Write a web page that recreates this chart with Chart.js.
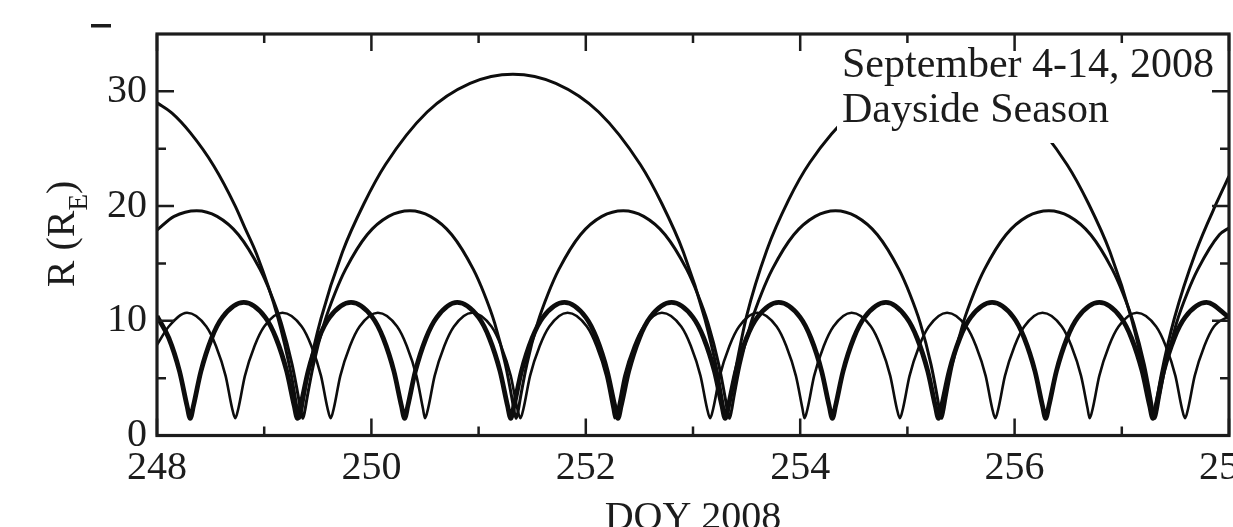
<!DOCTYPE html>
<html>
<head>
<meta charset="utf-8">
<script src="https://cdn.jsdelivr.net/npm/chart.js@4.4.1/dist/chart.umd.min.js"></script>
<style>
  html, body { margin: 0; padding: 0; overflow: hidden; background: #fff; }
  #wrap { width: 1233px; height: 527px; overflow: hidden; }
</style>
</head>
<body>
<div id="wrap"><canvas id="myChart" width="1270" height="527"></canvas></div>
<script>
// axis ticks
const xTickLabels = [248, 250, 252, 254, 256, 258];
const xMinorTicks = [249, 251, 253, 255, 257];
const yTickLabels = [0, 10, 20, 30];
const yMinorTicks = [5, 15, 25];

// P1 (~4 day orbit)
const p1Days = [248.00, 248.14, 248.31, 248.53, 248.73, 248.82, 248.93, 249.13, 249.25, 249.29, 249.31, 249.33,
  249.35, 249.37, 249.41, 249.53, 249.73, 249.93, 250.13, 250.52, 250.92, 251.32,
  251.72, 252.12, 252.51, 252.71, 252.91, 253.11, 253.23, 253.27, 253.29, 253.31,
  253.33, 253.35, 253.39, 253.50, 253.69, 253.89, 254.09, 254.50, 254.90, 255.30,
  255.70, 256.10, 256.49, 256.69, 256.89, 257.09, 257.21, 257.25, 257.27, 257.29,
  257.31, 257.33, 257.37, 257.49, 257.69, 257.89, 258.00];
const p1R = [29.0, 28.1, 26.4, 23.5, 20.0, 18.1, 15.8, 10.2, 5.4, 3.3, 2.2, 1.5,
  2.2, 3.3, 5.4, 10.2, 16.0, 20.2, 23.6, 28.2, 30.7, 31.5,
  30.7, 28.2, 23.6, 20.2, 16.0, 10.2, 5.4, 3.3, 2.2, 1.5,
  2.2, 3.3, 5.4, 10.4, 16.2, 20.5, 23.8, 28.3, 30.7, 31.5,
  30.7, 28.2, 23.6, 20.2, 16.0, 10.2, 5.4, 3.3, 2.2, 1.5,
  2.2, 3.3, 5.4, 10.2, 16.0, 20.4, 22.6];

// P2 (~2 day orbit)
const p2Days = [248.00, 248.16, 248.37, 248.56, 248.76, 248.96, 249.06, 249.16, 249.26, 249.32, 249.34, 249.36,
  249.38, 249.40, 249.46, 249.56, 249.66, 249.76, 249.96, 250.16, 250.36, 250.55, 250.75, 250.95, 251.05, 251.15, 251.25, 251.31, 251.33, 251.35,
  251.37, 251.39, 251.45, 251.55, 251.65, 251.75, 251.95, 252.15, 252.35, 252.54, 252.74, 252.94, 253.04, 253.14, 253.24, 253.30, 253.32, 253.34,
  253.36, 253.38, 253.44, 253.54, 253.64, 253.74, 253.94, 254.14, 254.33, 254.52, 254.72, 254.92, 255.02, 255.12, 255.22, 255.28, 255.30, 255.32,
  255.34, 255.36, 255.42, 255.52, 255.62, 255.72, 255.92, 256.12, 256.32, 256.51, 256.71, 256.91, 257.01, 257.11, 257.21, 257.27, 257.29, 257.31,
  257.33, 257.35, 257.41, 257.51, 257.61, 257.71, 257.91, 258.00];
const p2R = [17.9, 19.1, 19.6, 19.1, 17.5, 14.5, 12.4, 9.8, 6.2, 3.3, 2.2, 1.5,
  2.2, 3.3, 6.2, 9.8, 12.4, 14.5, 17.5, 19.1, 19.6, 19.1, 17.5, 14.5, 12.4, 9.8, 6.2, 3.3, 2.2, 1.5,
  2.2, 3.3, 6.2, 9.8, 12.4, 14.5, 17.5, 19.1, 19.6, 19.1, 17.5, 14.5, 12.4, 9.8, 6.2, 3.3, 2.2, 1.5,
  2.2, 3.3, 6.2, 9.8, 12.4, 14.5, 17.5, 19.1, 19.6, 19.1, 17.5, 14.5, 12.4, 9.8, 6.2, 3.3, 2.2, 1.5,
  2.2, 3.3, 6.2, 9.8, 12.4, 14.5, 17.5, 19.1, 19.6, 19.1, 17.5, 14.5, 12.4, 9.8, 6.2, 3.3, 2.2, 1.5,
  2.2, 3.3, 6.2, 9.8, 12.4, 14.5, 17.5, 18.1];

// P3/P4 (~1 day orbits, nearly on top of each other)
const p34Days = [248.00, 248.11, 248.21, 248.28, 248.31,
  248.34, 248.41, 248.51, 248.61, 248.81, 249.01, 249.11, 249.21, 249.28, 249.31,
  249.34, 249.41, 249.51, 249.61, 249.81, 250.01, 250.11, 250.21, 250.28, 250.31,
  250.34, 250.41, 250.51, 250.61, 250.80, 251.00, 251.10, 251.20, 251.27, 251.30,
  251.33, 251.40, 251.50, 251.60, 251.80, 252.00, 252.10, 252.20, 252.27, 252.30,
  252.33, 252.40, 252.50, 252.60, 252.80, 253.00, 253.10, 253.20, 253.27, 253.30,
  253.33, 253.40, 253.50, 253.60, 253.80, 254.00, 254.10, 254.20, 254.27, 254.30,
  254.33, 254.40, 254.50, 254.60, 254.80, 254.99, 255.09, 255.19, 255.26, 255.29,
  255.32, 255.39, 255.49, 255.59, 255.79, 255.99, 256.09, 256.19, 256.26, 256.29,
  256.32, 256.39, 256.49, 256.59, 256.79, 256.99, 257.09, 257.19, 257.26, 257.29,
  257.32, 257.39, 257.49, 257.59, 257.79, 258.00];
const p34R = [10.4, 8.5, 5.6, 2.6, 1.5,
  2.6, 5.6, 8.5, 10.3, 11.6, 10.3, 8.5, 5.6, 2.6, 1.5,
  2.6, 5.6, 8.5, 10.3, 11.6, 10.3, 8.5, 5.6, 2.6, 1.5,
  2.6, 5.6, 8.5, 10.3, 11.6, 10.3, 8.5, 5.6, 2.6, 1.5,
  2.6, 5.6, 8.5, 10.3, 11.6, 10.3, 8.5, 5.6, 2.6, 1.5,
  2.6, 5.6, 8.5, 10.3, 11.6, 10.3, 8.5, 5.6, 2.6, 1.5,
  2.6, 5.6, 8.5, 10.3, 11.6, 10.3, 8.5, 5.6, 2.6, 1.5,
  2.6, 5.6, 8.5, 10.3, 11.6, 10.3, 8.5, 5.6, 2.6, 1.5,
  2.6, 5.6, 8.5, 10.3, 11.6, 10.3, 8.5, 5.6, 2.6, 1.5,
  2.6, 5.6, 8.5, 10.3, 11.6, 10.3, 8.5, 5.6, 2.6, 1.5,
  2.6, 5.6, 8.5, 10.3, 11.6, 10.3];

// P5 (shorter orbit, lower apogee)
const p5Days = [248.00, 248.11, 248.28, 248.46, 248.55, 248.64, 248.70, 248.73,
  248.76, 248.82, 248.91, 249.00, 249.17, 249.35, 249.44, 249.53, 249.59, 249.62,
  249.65, 249.71, 249.80, 249.89, 250.06, 250.24, 250.33, 250.42, 250.48, 250.50,
  250.53, 250.59, 250.68, 250.77, 250.94, 251.12, 251.21, 251.30, 251.36, 251.39,
  251.42, 251.48, 251.57, 251.66, 251.83, 252.01, 252.10, 252.19, 252.25, 252.27,
  252.30, 252.36, 252.45, 252.54, 252.71, 252.89, 252.98, 253.07, 253.13, 253.16,
  253.19, 253.25, 253.34, 253.43, 253.60, 253.78, 253.87, 253.96, 254.02, 254.04,
  254.07, 254.13, 254.22, 254.31, 254.48, 254.66, 254.75, 254.84, 254.90, 254.93,
  254.96, 255.02, 255.11, 255.20, 255.37, 255.55, 255.64, 255.73, 255.79, 255.82,
  255.85, 255.91, 256.00, 256.09, 256.26, 256.44, 256.53, 256.62, 256.68, 256.70,
  256.73, 256.79, 256.88, 256.97, 257.14, 257.32, 257.41, 257.50, 257.56, 257.59,
  257.62, 257.68, 257.77, 257.86, 258.00];
const p5R = [7.9, 9.5, 10.7, 9.5, 7.8, 5.2, 2.4, 1.5,
  2.4, 5.2, 7.8, 9.5, 10.7, 9.5, 7.8, 5.2, 2.4, 1.5,
  2.4, 5.2, 7.8, 9.5, 10.7, 9.5, 7.8, 5.2, 2.4, 1.5,
  2.4, 5.2, 7.8, 9.5, 10.7, 9.5, 7.8, 5.2, 2.4, 1.5,
  2.4, 5.2, 7.8, 9.5, 10.7, 9.5, 7.8, 5.2, 2.4, 1.5,
  2.4, 5.2, 7.8, 9.5, 10.7, 9.5, 7.8, 5.2, 2.4, 1.5,
  2.4, 5.2, 7.8, 9.5, 10.7, 9.5, 7.8, 5.2, 2.4, 1.5,
  2.4, 5.2, 7.8, 9.5, 10.7, 9.5, 7.8, 5.2, 2.4, 1.5,
  2.4, 5.2, 7.8, 9.5, 10.7, 9.5, 7.8, 5.2, 2.4, 1.5,
  2.4, 5.2, 7.8, 9.5, 10.7, 9.5, 7.8, 5.2, 2.4, 1.5,
  2.4, 5.2, 7.8, 9.5, 10.7, 9.5, 7.8, 5.2, 2.4, 1.5,
  2.4, 5.2, 7.8, 9.5, 10.4];

const toPts = (xs, ys) => xs.map((v, i) => ({ x: v, y: ys[i] }));
const SERIF = '"Liberation Serif", "Times New Roman", serif';
const INK = '#1c1c1c';

function orbit(label, xs, ys, w) {
  return {
    label,
    data: toPts(xs, ys),
    borderColor: '#0d0d0d',
    borderWidth: w,
    pointRadius: 0,
    fill: false,
    cubicInterpolationMode: 'monotone',
  };
}

// frame, inner ticks, titles and the note box
const decor = {
  id: 'decor',
  afterDatasetsDraw(chart) {
    const { ctx, chartArea: { top, right } } = chart;
    ctx.save();
    ctx.fillStyle = '#fff';
    ctx.fillRect(837, top + 8, right - 840, 101);
    ctx.fillStyle = INK;
    ctx.font = `42px ${SERIF}`;
    ctx.textAlign = 'left';
    ctx.textBaseline = 'alphabetic';
    ctx.fillText('September 4-14, 2008', 842, 77);
    ctx.fillText('Dayside Season', 842, 122);
    ctx.restore();
  },
  afterDraw(chart) {
    const { ctx, chartArea: { left, top, right, bottom }, scales: { x, y } } = chart;
    ctx.save();
    ctx.strokeStyle = INK;
    ctx.lineWidth = 3.2;
    ctx.strokeRect(left, top, right - left, bottom - top);

    ctx.lineWidth = 2.5;
    ctx.beginPath();
    const xt = (v, len) => {
      const px = x.getPixelForValue(v);
      ctx.moveTo(px, bottom); ctx.lineTo(px, bottom - len);
      ctx.moveTo(px, top); ctx.lineTo(px, top + len);
    };
    const yt = (v, len) => {
      const py = y.getPixelForValue(v);
      ctx.moveTo(left, py); ctx.lineTo(left + len, py);
      ctx.moveTo(right, py); ctx.lineTo(right - len, py);
    };
    xTickLabels.forEach(v => xt(v, 17));
    xMinorTicks.forEach(v => xt(v, 9));
    yTickLabels.forEach(v => yt(v, 17));
    yMinorTicks.forEach(v => yt(v, 9));
    ctx.stroke();

    // left-over mark of the panel letter
    ctx.fillStyle = INK;
    ctx.fillRect(91, 24, 20, 3.5);

    // axis titles
    ctx.textBaseline = 'alphabetic';
    ctx.font = `40px ${SERIF}`;
    ctx.textAlign = 'center';
    ctx.fillText('DOY 2008', (left + right) / 2, 529);

    ctx.textAlign = 'left';
    ctx.translate(74, 234);
    ctx.rotate(-Math.PI / 2);
    const main = `40px ${SERIF}`, sub = `27px ${SERIF}`;
    ctx.font = main; const w1 = ctx.measureText('R (R').width, w3 = ctx.measureText(')').width;
    ctx.font = sub; const w2 = ctx.measureText('E').width;
    const sx = -(w1 + w2 + w3) / 2;
    ctx.font = main; ctx.fillText('R (R', sx, 0);
    ctx.font = sub; ctx.fillText('E', sx + w1, 13);
    ctx.font = main; ctx.fillText(')', sx + w1 + w2, 0);
    ctx.restore();
  }
};

const config = {
  type: 'line',
  data: {
    datasets: [
      orbit('P1', p1Days, p1R, 3),
      orbit('P2', p2Days, p2R, 3),
      orbit('P3/P4', p34Days, p34R, 4.8),
      orbit('P5', p5Days, p5R, 2.6),
    ]
  },
  options: {
    responsive: false,
    animation: false,
    devicePixelRatio: 1,
    layout: { padding: { left: 0, right: 41, top: 32, bottom: 0 } },
    plugins: { legend: { display: false }, tooltip: { enabled: false } },
    scales: {
      x: {
        type: 'linear',
        min: 248,
        max: 258,
        grid: { display: false, drawTicks: false },
        border: { display: false },
        afterBuildTicks: s => { s.ticks = xTickLabels.map(v => ({ value: v })); },
        afterFit: s => { s.height = 91.5; },
        ticks: { font: { family: SERIF, size: 40 }, color: INK, padding: 9, maxRotation: 0, autoSkip: false }
      },
      y: {
        min: 0,
        max: 35,
        grid: { display: false, drawTicks: false },
        border: { display: false },
        afterBuildTicks: s => { s.ticks = yTickLabels.map(v => ({ value: v })); },
        afterFit: s => { s.width = 157; },
        ticks: { font: { family: SERIF, size: 40 }, color: INK, padding: 10 }
      }
    }
  },
  plugins: [decor]
};

const myChart = new Chart(document.getElementById('myChart'), config);
</script>
</body>
</html>
